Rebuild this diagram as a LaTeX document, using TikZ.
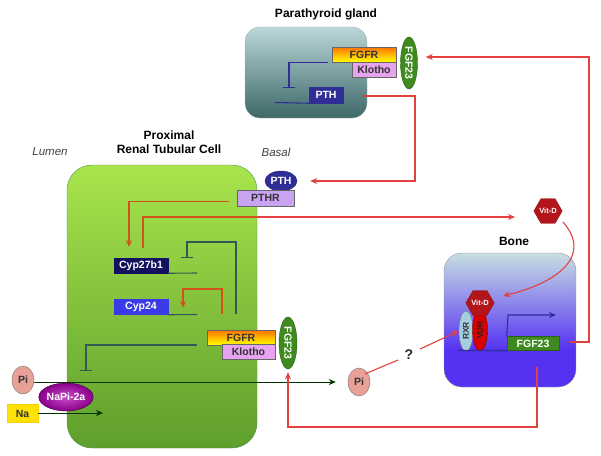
\documentclass[tikz,border=0pt]{standalone}
\usepackage{fontspec}
\setmainfont{Liberation Sans}
\usetikzlibrary{shapes.geometric,arrows.meta,calc}
\definecolor{navy}{HTML}{2E2E96}
\definecolor{darknavy}{HTML}{12125E}
\definecolor{cypblue}{HTML}{3A3AE6}
\definecolor{inhteal}{HTML}{2F5A55}
\definecolor{redl}{HTML}{E2413E}
\definecolor{orl}{HTML}{D2521C}
\definecolor{fgfgreen}{HTML}{3F8A1F}
\definecolor{klotho}{HTML}{E6A3EE}
\definecolor{pthr}{HTML}{C9A2F2}
\definecolor{pisalmon}{HTML}{E9A097}
\definecolor{vitred}{HTML}{B3161A}
\definecolor{ptgtop}{HTML}{BAD6D8}
\definecolor{ptgmid}{HTML}{80A6A7}
\definecolor{ptgbot}{HTML}{3E6868}
\definecolor{celltop}{HTML}{A8E44C}
\definecolor{cellbot}{HTML}{5E9E2C}
\definecolor{bonetop}{HTML}{C6DDE3}
\definecolor{bonemid}{HTML}{948AF3}
\definecolor{bonebot}{HTML}{5532F2}
\begin{document}
\begin{tikzpicture}[x=1pt,y=-1pt,
  lbl/.style={font=\bfseries\fontsize{10.5}{11}\selectfont},
  small/.style={font=\bfseries\fontsize{7.5}{8}\selectfont},
  vert/.style={font=\bfseries\fontsize{8.5}{9}\selectfont},
  title/.style={font=\bfseries\fontsize{12}{13.5}\selectfont},
  ital/.style={font=\itshape\fontsize{11.5}{12}\selectfont, text=black!75},
  recbox/.style={rectangle, inner sep=0pt, draw=black!60, line width=0.5pt, lbl},
  fgfr/.style={recbox, top color=orange!90!red, bottom color=yellow, text=black!80},
  klo/.style={recbox, fill=klotho, text=black!80},
  fgfell/.style={ellipse, inner sep=0pt, fill=fgfgreen, draw=fgfgreen!70!black, text=white, lbl},
  pi/.style={ellipse, inner sep=0pt, minimum width=22pt, minimum height=28pt, fill=pisalmon, draw=black!55, lbl, text=black!80},
  hex/.style={regular polygon, regular polygon sides=6, inner sep=0pt, fill=vitred, draw=vitred!80!black, text=white, small},
  inh/.style={inhteal, line width=1.1pt, -{Bar[width=12pt,line width=1.1pt]}},
  inhnavy/.style={navy, line width=1.1pt, -{Bar[width=12pt,line width=1.1pt]}},
  redarr/.style={redl, line width=1.1pt, -{Stealth[length=7pt,width=6pt]}},
  orarr/.style={orl, line width=1.1pt, -{Stealth[length=7pt,width=6pt]}},
  blkarr/.style={black!80!green, line width=1pt, -{Stealth[length=7pt,width=6pt]}},
  gene/.style={line width=1.1pt}
]
\useasboundingbox (0,0) rectangle (601,455);

% ---------- Parathyroid gland ----------
\node[title] (ptgt) at (326,14) {Parathyroid gland};
\node[rectangle, rounded corners=15pt, minimum width=122pt, minimum height=91pt,
      top color=ptgtop, middle color=ptgmid, bottom color=ptgbot, draw=black!30] (ptg) at (306,72.5) {};
\node[fgfr, minimum width=64pt, minimum height=15pt] (pFGFR) at (364,54.5) {FGFR};
\node[klo, minimum width=44pt, minimum height=15pt] (pKlo) at (374,69.5) {Klotho};
\node[fgfell, minimum width=17pt, minimum height=52pt] (pFGF) at (409,63) {\rotatebox{-90}{FGF23}};
\node[recbox, fill=navy, draw=navy, text=white, minimum width=34pt, minimum height=16pt] (pPTH) at (326,95) {PTH};
\coordinate (pinhs) at ($(pFGFR.south west)+(-4,0)$);
\coordinate (pinhe) at (289,88);
\draw[inhnavy] (pinhs) -| (pinhe);
\coordinate (pgene) at (275,102.5);
\draw[navy, gene] (pgene) -- (pPTH.south west);

% ---------- Cell ----------
\node[title, align=center] (cellt) at (169,142) {Proximal\\Renal Tubular Cell};
\node[ital] (lumen) at (50,152) {Lumen};
\node[ital] (basal) at (276,152) {Basal};
\node[rectangle, rounded corners=25pt, minimum width=190pt, minimum height=283pt,
      top color=celltop, bottom color=cellbot, draw=green!40!black!70] (cell) at (162,306.5) {};
\node[ellipse, inner sep=0pt, minimum width=32pt, minimum height=20pt, fill=navy, draw=navy!70!black, text=white, lbl] (cPTH) at (281,181) {PTH};
\node[recbox, fill=pthr, text=black!80, minimum width=57pt, minimum height=16pt] (PTHR) at (265.5,198) {PTHR};
\node[recbox, fill=darknavy, draw=darknavy, text=white, minimum width=54pt, minimum height=15pt] (Cyp27) at (141,265.5) {Cyp27b1};
\node[recbox, fill=cypblue, draw=cypblue, text=white, minimum width=54pt, minimum height=15pt] (Cyp24) at (141,307) {Cyp24};
\node[fgfr, minimum width=68pt, minimum height=15pt] (cFGFR) at (241,337.5) {FGFR};
\node[klo, minimum width=53pt, minimum height=15pt] (cKlo) at (248.5,352) {Klotho};
\node[fgfell, minimum width=18pt, minimum height=52pt] (cFGF) at (288,343) {\rotatebox{-90}{FGF23}};

% gene lines
\coordinate (g27) at (197,273);
\coordinate (g24) at (197,314.5);
\draw[inhteal, gene] (Cyp27.south east) -- (g27);
\draw[inhteal, gene] (Cyp24.south east) -- (g24);

% PTHR -> Cyp27b1 (orange)
\coordinate (pthrs) at (229,201.5);
\coordinate (cyp27in) at (129,247);
\draw[orarr] (pthrs) -| (cyp27in);

% Cyp27b1 -> Vit-D (red)
\node[hex, minimum size=25pt] (VitD) at (548,211) {Vit-D};
\coordinate (c27s) at (143,248);
\coordinate (c27c) at (143,217);
\coordinate (c27m) at (257,217);
\coordinate (c27e) at (515,217);
\draw[orl, line width=1.1pt] (c27s) -- (c27c) -- (c27m);
\draw[redarr] (c27m) -- (c27e);

% FGFR inhibition on Cyp27b1
\coordinate (i27s) at (236,314);
\coordinate (i27m) at (236,242);
\coordinate (i27e) at (187,258);
\draw[inh] (i27s) -- (i27m) -| (i27e);

% FGFR activates Cyp24 (orange)
\coordinate (a24s) at (222,314);
\coordinate (a24m) at (222,289);
\coordinate (a24e) at (183,308);
\draw[orarr] (a24s) -- (a24m) -| (a24e);

% FGFR inhibition on NaPi
\coordinate (inaS) at (197,345);
\coordinate (inaE) at (86,371);
\draw[inh] (inaS) -| (inaE);

% Pi / Na transport
\node[pi] (PiL) at (23,380) {Pi};
\node[recbox, fill=yellow!85!orange, draw=yellow!70!orange, text=black!80, minimum width=31pt, minimum height=18pt] (Na) at (22.5,413.5) {Na};
\node[pi] (PiR) at (359,382) {Pi};
\draw[blkarr] (PiL.east |- 0,382) -- ($(PiR.west)+(-12,0)$);
\node[ellipse, inner sep=0pt, minimum width=48pt, minimum height=28pt, inner color=violet!60!magenta!70!white, outer color=violet!80!magenta!90!black, draw=violet!50!black, text=white, lbl] (NaPi) at (66,397) {NaPi-2a};
\coordinate (naend) at (103,413);
\draw[blkarr] (Na.east |- 0,413) -- (naend);

% ---------- Bone ----------
\node[title] (bonet) at (514,241) {Bone};
\begin{scope}
  \clip[rounded corners=18pt] (444,253) rectangle (576,387);
  \foreach \i in {0,...,44}{
    \pgfmathsetmacro{\p}{min(100,\i*100/32)}
    \fill[bonebot!\p!bonetop] (444,{253+\i*3}) rectangle (576,{253+\i*3+3.5});
  }
\end{scope}
\node[rectangle, rounded corners=18pt, minimum width=132pt, minimum height=134pt,
      draw=black!40] (bone) at (510,320) {};
\node[ellipse, inner sep=0pt, minimum width=14pt, minimum height=40pt, fill=cyan!40!teal!40!white, draw=black!50, text=black!80, vert] (RXR) at (466,331) {\rotatebox{90}{RXR}};
\node[ellipse, inner sep=0pt, minimum width=15pt, minimum height=42pt, fill=red!85!black, draw=red!50!black, text=black!85, vert] (VDR) at (480,330) {\rotatebox{90}{VDR}};
\node[hex, minimum size=23pt] (bVitD) at (480,303) {Vit-D};
\node[recbox, fill=fgfgreen, draw=fgfgreen!70!black, text=white, minimum width=52pt, minimum height=14pt] (bFGF) at (533,343.5) {FGF23};
\coordinate (dna) at (458,350.5);
\draw[navy, gene] (dna) -- (bFGF.south west);
\coordinate (tss) at (508,315);
\coordinate (tsse) at (556,315);
\draw[navy, line width=1.1pt, -{Stealth[length=7pt,width=6pt]}] (bFGF.north west) -- (tss) -- (tsse);

% Vit-D -> bone
\coordinate (vdS) at (563,222);
\coordinate (vdE) at (503,296);
\draw[redarr] (vdS) .. controls (592,255) and (560,282) .. (vdE);

% Pi -> RXR with ?
\coordinate (qa) at (398,360);
\coordinate (qb) at (420,349);
\draw[redl, line width=1.1pt] (PiR.north east) ++(-2,2) -- (qa);
\node[font=\bfseries\fontsize{14}{15}\selectfont, text=black!85] (q) at (409,355) {?};
\draw[redarr] (qb) -- (RXR.west);

% PTH gland -> cell PTH
\coordinate (p1) at (363,96);
\coordinate (p2) at (415,181);
\draw[redarr] (p1) -| (p2) -- ($(cPTH.east)+(13,0)$);

% Bone FGF23 -> parathyroid FGF23
\coordinate (f1) at (570,342);
\coordinate (f2) at (589,57);
\draw[redarr] (f1) -| (f2) -- ($(pFGF.east)+(8,-6)$);

% Bone -> cell FGF23
\coordinate (b1) at (537,367);
\coordinate (b2) at (537,427);
\draw[redarr] (b1) -- (b2) -| ($(cFGF.south)+(0,3)$);
\end{tikzpicture}
\end{document}
